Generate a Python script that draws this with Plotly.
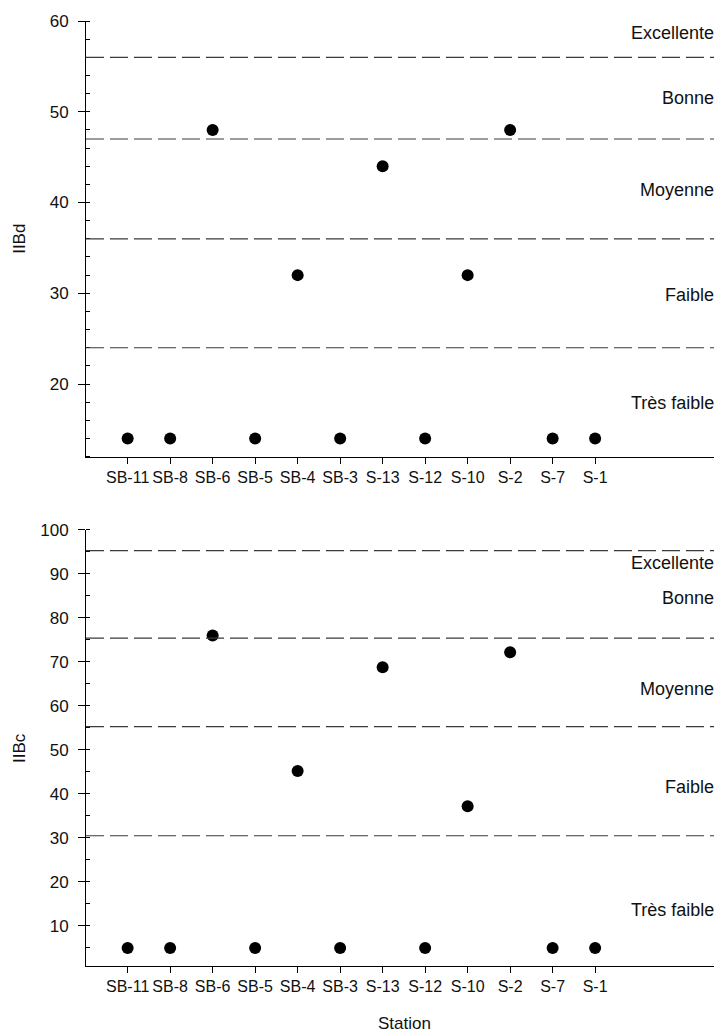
import plotly.graph_objects as go

stations = ["SB-11", "SB-8", "SB-6", "SB-5", "SB-4", "SB-3", "S-13", "S-12", "S-10", "S-2", "S-7", "S-1"]
iibd = [14, 14, 48, 14, 32, 14, 44, 14, 32, 48, 14, 14]
iibc = [5, 5, 76, 5, 45.2, 5, 68.8, 5, 37.2, 72.2, 5, 5]

iibd_thresholds = [56, 47, 36, 24]
iibc_thresholds = [95.3, 75.4, 55.3, 30.5]

zone_labels = ["Excellente", "Bonne", "Moyenne", "Faible", "Très faible"]

FONT = "Liberation Sans, Arial, sans-serif"
# page body has an 8px default margin; figure is sized/offset to compensate
W, H = 714, 1026
ML, MT, MB = 78, 13, 68
PW = W - ML  # plot width in px (636)

fig = go.Figure()
fig.add_trace(go.Scatter(x=stations, y=iibd, mode="markers",
                         marker=dict(color="black", size=12), xaxis="x", yaxis="y",
                         showlegend=False))
fig.add_trace(go.Scatter(x=stations, y=iibc, mode="markers",
                         marker=dict(color="black", size=12), xaxis="x2", yaxis="y2",
                         showlegend=False))

shapes = []
for t in iibd_thresholds:
    shapes.append(dict(type="line", xref="x domain", yref="y", x0=0, x1=1, y0=t, y1=t,
                       line=dict(color="#3a3a3a", width=1.2, dash="18px,6px")))
for t in iibc_thresholds:
    shapes.append(dict(type="line", xref="x2 domain", yref="y2", x0=0, x1=1, y0=t, y1=t,
                       line=dict(color="#3a3a3a", width=1.2, dash="18px,6px")))

top_label_y = [58.7, 51.5, 41.4, 29.8, 17.9]
bot_label_y = [92.5, 84.5, 63.8, 41.6, 13.6]
annotations = []
for lab, yv in zip(zone_labels, top_label_y):
    annotations.append(dict(text=lab, xref="paper", yref="y", x=(716 - 86) / PW, y=yv,
                            xanchor="right", yanchor="middle", showarrow=False,
                            font=dict(size=18, color="#111111", family=FONT)))
for lab, yv in zip(zone_labels, bot_label_y):
    annotations.append(dict(text=lab, xref="paper", yref="y2", x=(716 - 86) / PW, y=yv,
                            xanchor="right", yanchor="middle", showarrow=False,
                            font=dict(size=18, color="#111111", family=FONT)))
annotations.append(dict(text="IIBd", xref="paper", yref="y domain", x=(20 - 86) / PW, y=0.5,
                        xanchor="center", yanchor="middle", textangle=-90, showarrow=False,
                        font=dict(size=17, color="#111111", family=FONT)))
annotations.append(dict(text="IIBc", xref="paper", yref="y2 domain", x=(20 - 86) / PW, y=0.5,
                        xanchor="center", yanchor="middle", textangle=-90, showarrow=False,
                        font=dict(size=17, color="#111111", family=FONT)))
annotations.append(dict(text="Station", xref="paper", yref="paper", x=0.5, y=-(1023 - 966) / 945,
                        xanchor="center", yanchor="middle", showarrow=False,
                        font=dict(size=17, color="#111111", family=FONT)))

xcommon = dict(type="category", range=[-0.98, 13.985], showline=True, linecolor="black",
               linewidth=1, ticks="outside", ticklen=6, tickcolor="black", tickwidth=1,
               tickangle=0, showgrid=False, zeroline=False,
               tickfont=dict(size=16, color="#111111", family=FONT))
ycommon = dict(showline=True, linecolor="black", linewidth=1, ticks="outside", ticklen=7,
               tickcolor="black", tickwidth=1, showgrid=False, zeroline=False,
               tickfont=dict(size=17, color="#111111", family=FONT), ticklabelstandoff=6)

fig.update_layout(
    width=W, height=H,
    margin=dict(l=ML, r=0, t=MT, b=MB),
    plot_bgcolor="white", paper_bgcolor="white",
    xaxis=dict(domain=[0, 1], anchor="y", **xcommon),
    yaxis=dict(domain=[0.5390, 1], anchor="x", range=[12, 60], tick0=0, dtick=10,
               minor=dict(ticks="inside", ticklen=4, dtick=2, tickcolor="black", tickwidth=1),
               **ycommon),
    xaxis2=dict(domain=[0, 1], anchor="y2", **xcommon),
    yaxis2=dict(domain=[0, 0.4614], anchor="x2", range=[0.9, 100], tick0=0, dtick=10,
                minor=dict(ticks="inside", ticklen=4, dtick=5, tickcolor="black", tickwidth=1),
                **ycommon),
    shapes=shapes,
    annotations=annotations,
    font=dict(family=FONT, color="#111111"),
)

fig.write_html("out.html")
